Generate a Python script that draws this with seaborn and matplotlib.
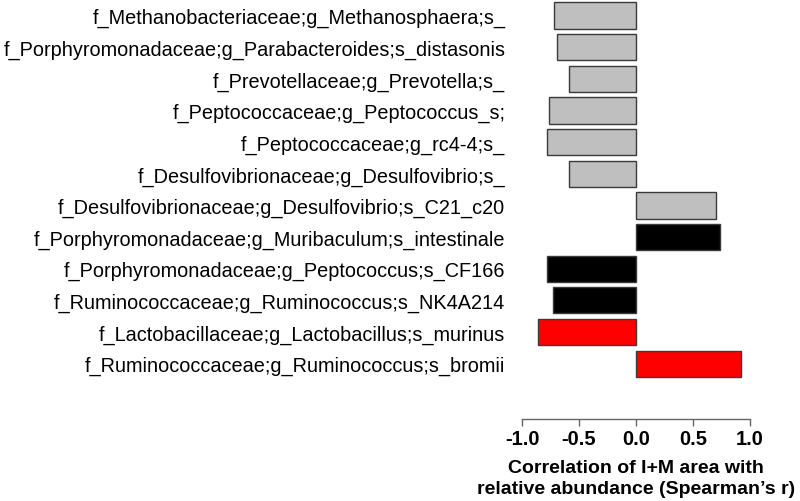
import matplotlib
matplotlib.use("Agg")
import matplotlib.pyplot as plt
import seaborn as sns

# taxa (top to bottom) and Spearman r values
taxa = [
    "f_Methanobacteriaceae;g_Methanosphaera;s_",
    "f_Porphyromonadaceae;g_Parabacteroides;s_distasonis",
    "f_Prevotellaceae;g_Prevotella;s_",
    "f_Peptococcaceae;g_Peptococcus_s;",
    "f_Peptococcaceae;g_rc4-4;s_",
    "f_Desulfovibrionaceae;g_Desulfovibrio;s_",
    "f_Desulfovibrionaceae;g_Desulfovibrio;s_C21_c20",
    "f_Porphyromonadaceae;g_Muribaculum;s_intestinale",
    "f_Porphyromonadaceae;g_Peptococcus;s_CF166",
    "f_Ruminococcaceae;g_Ruminococcus;s_NK4A214",
    "f_Lactobacillaceae;g_Lactobacillus;s_murinus",
    "f_Ruminococcaceae;g_Ruminococcus;s_bromii",
]
spearman_r = [-0.72, -0.69, -0.59, -0.76, -0.78, -0.59,
              0.70, 0.74, -0.78, -0.73, -0.86, 0.92]
group = ["gray"] * 7 + ["black"] * 3 + ["red"] * 2
group_colors = {"gray": "#BFBFBF", "black": "#000000", "red": "#FF0000"}

sns.set_style("white")
plt.rcParams['font.family'] = ['Liberation Sans', 'DejaVu Sans']
plt.rcParams['text.color'] = 'black'
plt.rcParams['axes.labelcolor'] = 'black'
plt.rcParams['xtick.color'] = 'black'
plt.rcParams['ytick.color'] = 'black'

fig, ax = plt.subplots(figsize=(8, 5.02), dpi=100)
fig.subplots_adjust(left=0.6525, right=0.9375, bottom=0.1633, top=0.9986)

palette = {t: group_colors[g] for t, g in zip(taxa, group)}
sns.barplot(x=spearman_r, y=taxa, hue=taxa, palette=palette, legend=False,
            orient="h", width=0.83, edgecolor="#3a3a3a", linewidth=1,
            saturation=1, ax=ax)

ax.set_xlim(-1.0, 1.0)
ax.set_ylim(12.75, -0.5)
ax.set_xticks([-1.0, -0.5, 0.0, 0.5, 1.0])
ax.set_xticklabels(["-1.0", "-0.5", "0.0", "0.5", "1.0"], fontsize=14.5, fontweight="bold")
ax.tick_params(axis="x", bottom=True, direction="out", length=5, width=1,
               color="#666666", labelcolor="black", pad=2)
ax.tick_params(axis="y", left=False, length=0, pad=12, labelsize=14.3, labelcolor="black")

for side in ["top", "right", "left"]:
    ax.spines[side].set_visible(False)
ax.spines["bottom"].set_color("#666666")
ax.spines["bottom"].set_linewidth(1)

ax.set_ylabel("")
ax.set_xlabel("Correlation of I+M area with\nrelative abundance (Spearman\u2019s r)",
              fontsize=14, fontweight="bold", labelpad=8, linespacing=1.3, color="black")

plt.savefig("out.png", dpi=100)
plt.close()
